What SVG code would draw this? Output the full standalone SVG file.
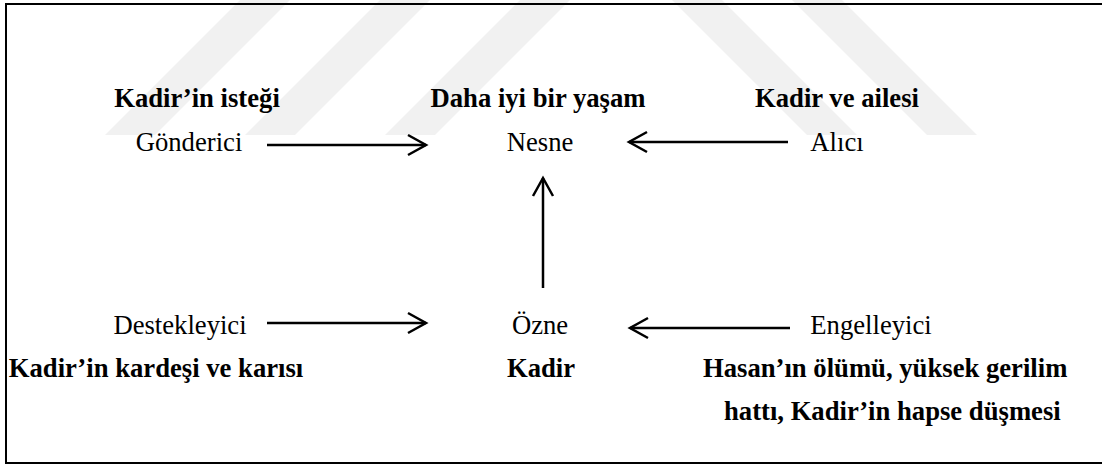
<svg xmlns="http://www.w3.org/2000/svg" width="1102" height="465" viewBox="0 0 1102 465">
  <style>
    .t { font-family: "Liberation Serif", Tinos, "Times New Roman", Times, "DejaVu Serif", serif; font-size: 26.67px; fill: #000; }
    .b { font-weight: bold; }
    .m { text-anchor: middle; }
    .conn { stroke: #000; stroke-width: 2.5; fill: none; }
    .wm { fill: #f1f1f1; stroke: none; }
  </style>
  <defs>
    <marker id="open" markerUnits="userSpaceOnUse" markerWidth="40" markerHeight="40" viewBox="-20 -20 40 40" refX="0" refY="0" orient="auto">
      <path d="M-18,-10 L0,0 L-18,10" fill="none" stroke="#000" stroke-width="2.5" stroke-linejoin="miter"/>
    </marker>
  </defs>
  <rect x="0" y="0" width="1102" height="465" fill="#fff"/>
  <g id="watermark">
    <polygon class="wm" points="240,0 290,0 155,135 105,135"/>
    <polygon class="wm" points="380,0 430,0 295,135 245,135"/>
    <polygon class="wm" points="520,0 570,0 435,135 385,135"/>
    <polygon class="wm" points="672,0 722,0 857,135 807,135"/>
    <polygon class="wm" points="792,0 842,0 977,135 927,135"/>
  </g>
  <rect id="frame" x="6" y="4" width="1100" height="459" fill="none" stroke="#000" stroke-width="2"/>
  <g id="connectors">
    <line class="conn" x1="267" y1="145" x2="426" y2="145" marker-end="url(#open)"/>
    <line class="conn" x1="788" y1="142" x2="629" y2="142" marker-end="url(#open)"/>
    <line class="conn" x1="543" y1="288" x2="543" y2="178" marker-end="url(#open)"/>
    <line class="conn" x1="267" y1="323" x2="426" y2="323" marker-end="url(#open)"/>
    <line class="conn" x1="790" y1="328" x2="630" y2="328" marker-end="url(#open)"/>
  </g>
  <g id="gonderici">
    <text class="t b m" x="197" y="107">Kadir’in isteği</text>
    <text class="t m" x="189" y="151">Gönderici</text>
  </g>
  <g id="nesne">
    <text class="t b m" x="538" y="107">Daha iyi bir yaşam</text>
    <text class="t m" x="540" y="151">Nesne</text>
  </g>
  <g id="alici">
    <text class="t b m" x="837" y="107">Kadir ve ailesi</text>
    <text class="t m" x="837" y="151">Alıcı</text>
  </g>
  <g id="destekleyici">
    <text class="t m" x="180" y="334">Destekleyici</text>
    <text class="t b m" x="156" y="377">Kadir’in kardeşi ve karısı</text>
  </g>
  <g id="ozne">
    <text class="t m" x="540" y="334">Özne</text>
    <text class="t b m" x="541" y="377">Kadir</text>
  </g>
  <g id="engelleyici">
    <text class="t m" x="871" y="334">Engelleyici</text>
    <text class="t b" x="703" y="377">Hasan’ın ölümü, yüksek gerilim</text>
    <text class="t b" x="724" y="420">hattı, Kadir’in hapse düşmesi</text>
  </g>
</svg>
